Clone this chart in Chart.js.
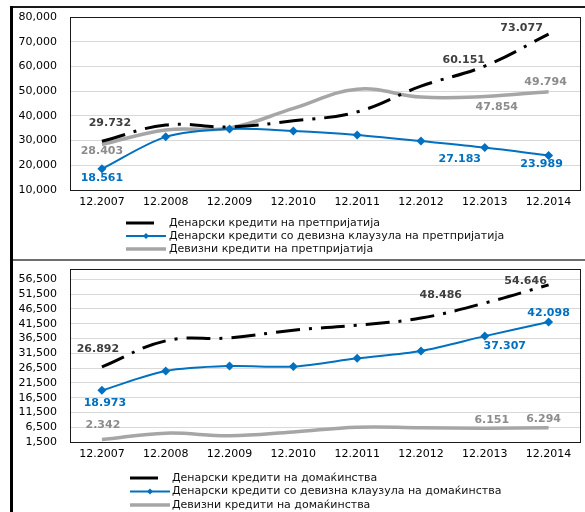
<!DOCTYPE html>
<html lang="mk">
<head>
<meta charset="utf-8">
<title>Кредити</title>
<script src="https://cdn.jsdelivr.net/npm/chart.js@4.4.1/dist/chart.umd.min.js"></script>
<style>
    body {
        margin: 0;
        width: 585px;
        height: 512px;
        overflow: hidden;
        position: relative;
        background: #fff;
        font-family: "DejaVu Sans", Verdana, sans-serif;
    }
    .frame-top { position: absolute; left: 10px; top: 6px; width: 575px; height: 2px; background: #1a1a1a; }
    .frame-left { position: absolute; left: 10px; top: 6px; width: 3px; height: 506px; background: #000; }
    .frame-mid { position: absolute; left: 13px; top: 259px; width: 572px; height: 2px; background: #6e6e6e; }
    .box { position: absolute; left: 13px; width: 572px; height: 250px; }
    #box1 { top: 8px; }
    #box2 { top: 262px; }
</style>
</head>
<body>
<div class="frame-top"></div>
<div class="frame-left"></div>
<div class="frame-mid"></div>
<div class="box" id="box1"><canvas id="firms"></canvas></div>
<div class="box" id="box2"><canvas id="households"></canvas></div>

<script>
    const years = ['12.2007', '12.2008', '12.2009', '12.2010', '12.2011', '12.2012', '12.2013', '12.2014'];

    // претпријатија
    const firmDenar   = [29732, 36300, 35500, 38000, 41600, 52000, 60151, 73077];
    const firmClause  = [18561, 31500, 34700, 33900, 32300, 29800, 27183, 23989];
    const firmForeign = [28403, 34300, 35100, 43000, 50800, 47600, 47854, 49794];
    const firmTicks   = [10000, 20000, 30000, 40000, 50000, 60000, 70000, 80000];

    // домаќинства
    const houseDenar   = [26892, 35700, 36700, 39300, 41000, 43400, 48486, 54646];
    const houseClause  = [18973, 25500, 27200, 27000, 29800, 32300, 37307, 42098];
    const houseForeign = [2342, 4500, 3600, 4900, 6500, 6300, 6151, 6294];
    const houseTicks   = [1500, 6500, 11500, 16500, 21500, 26500, 31500, 36500, 41500, 46500, 51500, 56500];

    const FONT = '"DejaVu Sans", Verdana, sans-serif';
    const BLACK = '#000000';
    const BLUE = '#0070c0';
    const GREY = '#a6a6a6';

    // draws the black box round the plot area
    const framePlugin = {
        id: 'frame',
        beforeDatasetsDraw(chart) {
            const a = chart.chartArea;
            const ctx = chart.ctx;
            ctx.save();
            ctx.strokeStyle = '#1a1a1a';
            ctx.lineWidth = 1;
            ctx.strokeRect(Math.round(a.left) + 0.5, Math.round(a.top) + 0.5,
                Math.round(a.right) - Math.round(a.left) - 1, Math.round(a.bottom) - Math.round(a.top));
            ctx.restore();
        }
    };

    // value labels like 29.732 next to chosen points
    const valueLabels = {
        id: 'valueLabels',
        afterDatasetsDraw(chart, args, opts) {
            const ctx = chart.ctx;
            ctx.save();
            ctx.font = 'bold 11px ' + FONT;
            ctx.textAlign = 'center';
            ctx.textBaseline = 'middle';
            (opts.items || []).forEach(it => {
                const ds = chart.data.datasets[it.ds];
                const pt = chart.getDatasetMeta(it.ds).data[it.i];
                ctx.fillStyle = ds.labelColor;
                ctx.fillText((ds.data[it.i] / 1000).toFixed(3), pt.x + it.dx, pt.y + it.dy);
            });
            ctx.restore();
        }
    };

    // legend stacked one row per series, under the x axis
    const stackedLegend = {
        id: 'stackedLegend',
        afterDraw(chart, args, opts) {
            const ctx = chart.ctx;
            const base = chart.chartArea.bottom + opts.top;
            ctx.save();
            ctx.font = '11px ' + FONT;
            ctx.textBaseline = 'middle';
            ctx.textAlign = 'left';
            chart.data.datasets.forEach((ds, k) => {
                const y = base + k * opts.row;
                const len = ds.borderDash ? 28 : 40;
                ctx.strokeStyle = ds.borderColor;
                ctx.lineWidth = ds.borderWidth;
                ctx.lineCap = 'butt';
                ctx.beginPath();
                ctx.moveTo(opts.x, y);
                ctx.lineTo(opts.x + len, y);
                ctx.stroke();
                if (ds.pointRadius > 0) {
                    const cx = opts.x + 20;
                    ctx.fillStyle = ds.borderColor;
                    ctx.beginPath();
                    ctx.moveTo(cx, y - 3);
                    ctx.lineTo(cx + 3, y);
                    ctx.lineTo(cx, y + 3);
                    ctx.lineTo(cx - 3, y);
                    ctx.closePath();
                    ctx.fill();
                }
                ctx.fillStyle = '#111';
                ctx.fillText(ds.label, opts.textX, y);
            });
            ctx.restore();
        }
    };

    function makeChart(id, cfg) {
        return new Chart(document.getElementById(id), {
            type: 'line',
            data: {
                labels: years,
                datasets: [{
                    label: cfg.names[0],
                    data: cfg.denar,
                    borderColor: BLACK,
                    borderWidth: 3,
                    borderDash: [24, 9, 3, 9],
                    pointRadius: 0,
                    tension: 0.4,
                    labelColor: '#404040'
                }, {
                    label: cfg.names[1],
                    data: cfg.clause,
                    borderColor: BLUE,
                    backgroundColor: BLUE,
                    borderWidth: 2,
                    pointStyle: 'rectRot',
                    pointRadius: 4.5,
                    pointBorderWidth: 0,
                    tension: 0.3,
                    labelColor: BLUE
                }, {
                    label: cfg.names[2],
                    data: cfg.foreign,
                    borderColor: GREY,
                    borderWidth: 3.5,
                    pointRadius: 0,
                    tension: 0.4,
                    labelColor: '#8c8c8c'
                }]
            },
            options: {
                responsive: true,
                maintainAspectRatio: false,
                animation: false,
                layout: { padding: { top: cfg.padTop, right: 4, left: 0, bottom: cfg.padBottom } },
                plugins: {
                    legend: { display: false },
                    tooltip: { enabled: false },
                    valueLabels: { items: cfg.labels },
                    stackedLegend: cfg.legend
                },
                scales: {
                    x: {
                        offset: true,
                        grid: { display: false, drawTicks: false },
                        border: { display: false },
                        ticks: { color: '#000', font: { family: FONT, size: 11 }, padding: 6 },
                        afterFit(scale) { scale.height = 22; }
                    },
                    y: {
                        min: cfg.ticks[0],
                        max: cfg.max,
                        grid: { color: '#d9d9d9', drawTicks: false },
                        border: { display: false },
                        ticks: {
                            color: '#000',
                            font: { family: FONT, size: 11 },
                            padding: 13,
                            autoSkip: false,
                            callback: v => v.toLocaleString('en-US')
                        },
                        afterBuildTicks(scale) { scale.ticks = cfg.ticks.map(v => ({ value: v })); },
                        afterFit(scale) {
                            scale.width = 57;
                            // tick padding should not push the plot down
                            scale.paddingTop = 6;
                            scale.paddingBottom = 6;
                        }
                    }
                }
            },
            plugins: [framePlugin, valueLabels, stackedLegend]
        });
    }

    makeChart('firms', {
        names: ['Денарски кредити на претпријатија',
                'Денарски кредити со девизна клаузула на претпријатија',
                'Девизни кредити на претпријатија'],
        denar: firmDenar, clause: firmClause, foreign: firmForeign,
        ticks: firmTicks, max: 80000,
        padTop: 9, padBottom: 46,
        legend: { x: 113, textX: 156, top: 33, row: 13 },
        labels: [
            { ds: 0, i: 0, dx: 8, dy: -18 },
            { ds: 0, i: 6, dx: -21, dy: -6 },
            { ds: 0, i: 7, dx: -27, dy: -6 },
            { ds: 1, i: 0, dx: 0, dy: 9 },
            { ds: 1, i: 6, dx: -25, dy: 12 },
            { ds: 1, i: 7, dx: -7, dy: 9 },
            { ds: 2, i: 0, dx: 0, dy: 7 },
            { ds: 2, i: 6, dx: 12, dy: 11 },
            { ds: 2, i: 7, dx: -3, dy: -10 }
        ]
    });

    makeChart('households', {
        names: ['Денарски кредити на домаќинства',
                'Денарски кредити со девизна клаузула на домаќинства',
                'Девизни кредити на домаќинства'],
        denar: houseDenar, clause: houseClause, foreign: houseForeign,
        ticks: houseTicks, max: 60000,
        padTop: 7, padBottom: 48,
        legend: { x: 117, textX: 159, top: 36, row: 13.5 },
        labels: [
            { ds: 0, i: 0, dx: -4, dy: -18 },
            { ds: 0, i: 6, dx: -44, dy: -8 },
            { ds: 0, i: 7, dx: -23, dy: -4 },
            { ds: 1, i: 0, dx: 3, dy: 13 },
            { ds: 1, i: 6, dx: 20, dy: 10 },
            { ds: 1, i: 7, dx: 0, dy: -9 },
            { ds: 2, i: 0, dx: 1, dy: -14 },
            { ds: 2, i: 6, dx: 7, dy: -8 },
            { ds: 2, i: 7, dx: -5, dy: -9 }
        ]
    });
</script>
</body>
</html>
